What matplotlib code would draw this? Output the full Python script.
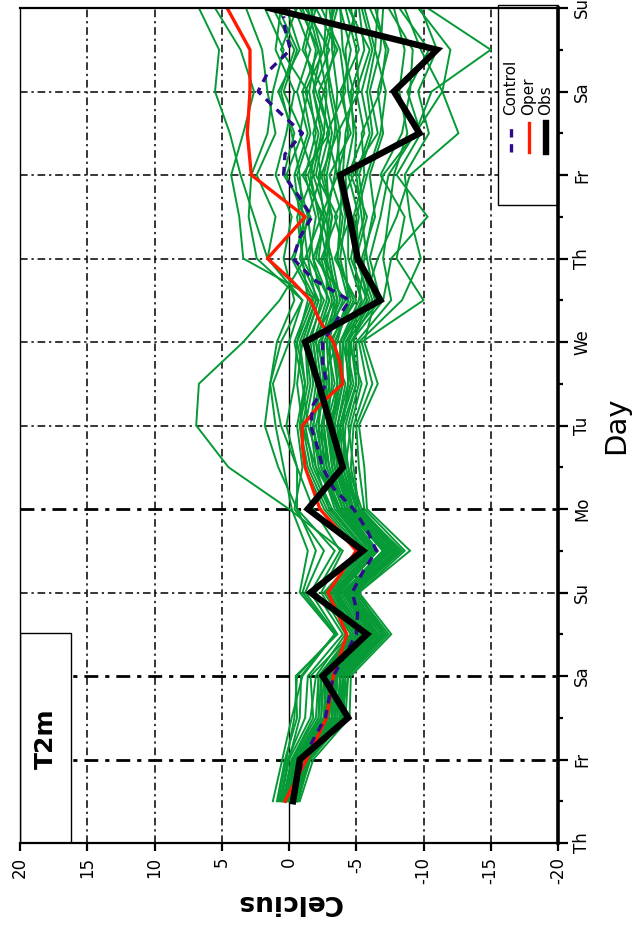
import matplotlib
matplotlib.use("Agg")
import matplotlib.pyplot as plt
from matplotlib.patches import Rectangle
import numpy as np

# ---------------- data ----------------
celsius_ticks = [20, 15, 10, 5, 0, -5, -10, -15, -20]
day_labels = ["Th", "Fr", "Sa", "Su", "Mo", "Tu", "We", "Th", "Fr", "Sa", "Su"]

ens_days = [0.5, 1.0, 1.5, 2.0, 2.5, 3.0, 3.5, 4.0, 4.5, 5.0,
            5.5, 6.0, 6.5, 7.0, 7.5, 8.0, 8.5, 9.0, 9.5, 10.0]

ens_members = [
    [0.3,-0.5,-2.4,-2.6,-5.0,-3.2,-6.0,-3.6,-2.2,-1.8,-2.4,-2.0,-3.0,-1.5,-2.0,-1.2,-2.0,-1.5,-2.0,-1.0],
    [-0.5,-1.2,-3.6,-3.8,-6.5,-4.6,-7.4,-4.8,-3.6,-3.2,-3.8,-3.4,-4.6,-3.8,-4.2,-3.6,-4.4,-4.0,-4.6,-3.8],
    [0.0,-0.8,-3.0,-3.0,-5.8,-3.8,-6.6,-4.0,-2.8,-2.2,-2.6,-2.2,-4.2,-2.0,-2.6,-1.0,-3.0,-2.2,-3.6,-2.0],
    [-0.3,-1.5,-4.0,-4.2,-7.2,-5.0,-8.2,-5.4,-4.4,-3.8,-4.6,-4.0,-5.8,-4.6,-5.2,-4.4,-5.6,-5.0,-6.0,-4.4],
    [0.8,0.2,-0.4,-0.6,-3.5,-1.2,-2.6,-0.4,-1.0,-0.6,-1.2,-0.8,-2.0,-0.4,-1.2,0.2,-1.0,0.4,-0.6,0.8],
    [1.2,0.5,-0.2,-1.0,-3.4,-0.8,-1.4,-0.2,0.4,1.0,1.4,0.6,-1.0,1.6,1.0,2.4,1.0,1.6,2.0,3.2],
    [0.6,0.0,-1.6,-2.0,-4.2,-2.4,-4.0,0.0,4.5,6.9,6.7,3.4,0.7,-1.2,-2.4,-1.4,-2.6,-1.8,-2.4,-1.6],
    [-0.4,-1.0,-3.4,-3.6,-6.2,-4.4,-7.2,-4.6,-3.8,-3.6,-4.4,-4.2,-6.8,-6.0,-6.8,-7.4,-9.4,-10.6,-15.0,-10.3],
    [-0.2,-0.9,-3.2,-3.4,-6.0,-4.2,-7.0,-4.4,-3.4,-3.0,-3.8,-3.8,-5.6,-6.6,-8.0,-9.0,-12.6,-11.4,-12.0,-9.6],
    [-0.6,-1.4,-3.8,-4.0,-6.8,-4.8,-7.8,-5.0,-4.0,-4.2,-5.0,-4.6,-7.0,-7.6,-10.3,-8.0,-9.8,-8.8,-10.4,-8.2],
    [-0.1,-1.1,-3.9,-4.4,-7.0,-5.2,-8.6,-5.6,-5.2,-5.0,-6.2,-5.4,-10.0,-8.0,-8.6,-6.8,-8.4,-9.0,-9.2,-7.4],
    [0.5,-0.4,-2.6,-2.8,-5.4,-3.6,-6.2,-3.8,-2.4,-1.4,-1.0,-0.4,-1.6,1.6,2.6,3.6,4.4,5.5,5.2,6.7],
    [0.2,-0.6,-2.8,-2.9,-5.6,-3.4,-6.4,-3.8,-2.0,-1.0,-1.6,-1.2,-2.2,3.4,3.7,4.3,3.4,2.6,3.6,5.5],
    [-0.2,-1.0,-3.2,-3.1,-6.0,-4.2,-7.0,-4.2,-3.2,-2.8,-3.2,-3.0,-3.6,-3.0,-2.8,-3.4,-3.8,-3.2,-2.6,-3.4],
    [-0.8,-1.8,-4.5,-4.6,-7.6,-5.2,-9.0,-5.8,-5.6,-5.2,-6.6,-5.6,-6.4,-5.4,-6.4,-6.0,-7.0,-6.6,-7.4,-6.0],
    [0.1,-0.6,-2.2,-2.4,-4.8,-3.0,-5.8,-3.2,-1.8,-1.2,-1.8,-1.4,-2.6,-1.0,-0.8,-0.4,-1.4,-0.6,-1.6,-0.4],
    [-0.3,-1.3,-3.6,-3.4,-6.4,-4.0,-7.6,-4.6,-3.6,-3.4,-2.4,-3.6,-4.4,-4.2,-3.4,-4.8,-5.0,-4.4,-4.2,-5.0],
    [0.9,0.3,-0.6,-0.5,-3.6,-1.6,-3.4,-0.6,0.8,1.8,1.4,0.9,-0.4,0.4,-0.2,1.0,0.2,-0.4,1.0,0.6],
    [-0.6,-1.6,-4.2,-4.4,-7.4,-5.0,-8.4,-5.2,-4.8,-4.4,-5.2,-5.0,-7.6,-7.0,-7.4,-7.8,-8.8,-8.2,-8.6,-7.8],
    [0.0,-0.7,-2.8,-3.0,-5.4,-3.6,-6.2,-3.6,-2.6,-2.0,-2.8,-2.4,-3.2,-2.4,-3.6,-2.0,-2.6,-2.8,-2.2,-1.4],
    [-0.4,-1.2,-3.4,-3.6,-6.4,-4.4,-7.4,-4.8,-3.8,-3.6,-4.2,-3.0,-5.0,-3.4,-4.6,-3.8,-3.6,-5.2,-5.0,-4.2],
    [0.4,-0.2,-1.8,-1.6,-4.6,-2.6,-5.4,-2.8,-1.4,-0.8,-1.2,-0.6,-1.8,-0.2,-1.6,0.4,-0.4,0.8,-0.8,0.2],
    [-0.2,-0.9,-3.2,-3.5,-6.2,-4.4,-7.2,-4.6,-3.6,-3.2,-4.0,-3.8,-5.2,-5.6,-6.2,-7.0,-9.4,-11.4,-9.8,-8.6],
    [0.2,-0.5,-2.6,-2.7,-5.2,-3.4,-6.0,-3.4,-2.4,-1.8,-2.2,-1.8,-2.8,-2.8,-2.2,-1.6,-2.2,-1.2,-2.6,-2.8],
    [-0.7,-1.5,-4.2,-4.0,-7.0,-4.8,-8.0,-5.0,-4.2,-4.6,-5.4,-4.4,-5.4,-4.8,-5.6,-5.2,-6.2,-5.8,-6.4,-5.6],
    [0.6,0.1,-1.2,-1.4,-4.0,-2.0,-3.8,-1.8,-0.6,0.6,1.2,0.0,-1.0,2.4,3.0,2.8,1.6,1.2,0.4,1.8],
    [-0.5,-1.3,-3.8,-3.8,-6.6,-4.6,-7.8,-4.8,-4.0,-3.8,-4.8,-4.2,-6.0,-5.0,-5.8,-4.6,-6.6,-6.0,-6.8,-7.0],
    [0.1,-0.8,-3.0,-3.2,-5.8,-3.8,-6.6,-4.0,-3.0,-2.4,-3.4,-2.8,-3.4,-2.6,-3.0,-2.8,-3.4,-3.6,-3.2,-3.2],
    [0.7,0.0,-0.8,-0.9,-3.4,-1.0,-2.0,-0.6,-0.6,0.2,-0.4,-0.6,-1.4,-1.0,-0.6,-1.8,-0.8,-1.4,0.6,-0.6],
    [-0.3,-1.1,-3.4,-3.6,-6.2,-4.2,-7.2,-4.4,-3.4,-2.8,-3.6,-3.4,-4.8,-3.6,-4.0,-3.0,-4.6,-3.8,-5.2,-4.6],
    [0.0,-0.9,-3.2,-3.0,-5.6,-3.6,-6.6,-4.2,-3.0,-2.6,-2.6,-2.6,-3.8,-3.2,-2.4,-3.6,-2.8,-4.2,-3.8,-2.4],
    [-0.6,-1.4,-4.0,-4.2,-7.2,-5.0,-8.0,-5.2,-4.6,-4.8,-5.8,-5.2,-8.4,-9.8,-9.0,-8.6,-10.4,-9.6,-11.0,-9.8],
    [0.3,-0.4,-2.4,-2.4,-5.0,-3.0,-5.8,-3.0,-1.6,-1.0,-0.6,-1.0,-2.0,-1.4,-1.0,-0.8,-0.2,0.6,-0.4,1.2],
    [-0.2,-1.0,-3.4,-3.4,-6.0,-4.0,-7.0,-4.4,-3.6,-3.8,-4.6,-4.4,-6.2,-5.2,-4.8,-5.6,-5.4,-6.8,-7.2,-6.4],
    [0.2,-0.6,-2.8,-2.6,-5.4,-3.2,-6.2,-3.6,-2.4,-2.2,-2.2,-1.8,-3.4,-2.2,-2.6,-2.2,-3.0,-2.0,-1.2,-2.0],
    [-0.4,-1.2,-3.6,-3.8,-6.6,-4.4,-7.6,-4.6,-3.8,-3.4,-4.0,-4.0,-5.4,-4.4,-4.4,-4.2,-4.8,-4.6,-5.6,-5.2],
    [0.4,-0.3,-2.2,-2.2,-4.8,-2.8,-5.6,-3.0,-2.0,-1.6,-2.0,-1.6,-2.4,-1.8,-1.4,-2.4,-1.8,-2.6,-1.0,-1.8],
    [-0.1,-1.0,-3.4,-3.2,-6.0,-4.0,-7.0,-4.2,-3.2,-3.0,-3.0,-2.8,-4.0,-2.6,-3.2,-2.4,-3.6,-3.0,-2.8,-3.6],
    [-0.4,-1.3,-3.8,-4.0,-6.8,-4.6,-7.8,-5.0,-4.4,-4.0,-4.4,-4.6,-6.4,-5.8,-5.4,-5.0,-6.0,-5.4,-6.2,-5.4],
    [0.2,-0.7,-2.6,-2.8,-5.2,-3.4,-6.4,-3.8,-2.6,-2.4,-3.0,-2.0,-3.0,-1.8,-2.8,-1.8,-2.4,-1.8,-3.0,-1.2],
    [-0.3,-1.1,-3.2,-3.6,-6.4,-4.2,-7.2,-4.4,-3.4,-3.2,-3.6,-3.2,-4.4,-3.6,-3.8,-4.0,-4.2,-4.8,-4.0,-3.8],
    [0.5,-0.2,-2.0,-2.2,-4.6,-2.8,-5.2,-2.6,-1.2,-0.8,-1.4,-1.2,-2.2,-0.8,-1.4,-0.6,-1.6,-1.0,-2.2,-0.8],
    [-0.5,-1.4,-4.0,-4.0,-7.0,-4.8,-8.2,-5.2,-4.2,-4.0,-5.0,-4.8,-5.8,-5.2,-5.0,-5.8,-6.8,-7.2,-6.4,-6.6],
    [0.0,-0.8,-2.8,-3.0,-5.6,-3.6,-6.4,-4.0,-2.8,-2.6,-2.8,-2.4,-3.6,-2.8,-3.2,-2.6,-3.2,-2.6,-3.4,-3.0],
]

control_days = [0.5, 1.0, 1.5, 2.0, 2.5, 2.75, 3.0, 3.25, 3.5, 3.75, 4.0, 4.25, 4.5, 4.75,
                5.0, 5.25, 5.5, 5.75, 6.0, 6.25, 6.5, 6.75, 7.0, 7.25, 7.5, 7.75, 8.0,
                8.25, 8.5, 8.75, 9.0, 9.25, 9.5, 9.75, 9.9]
control_vals = [-0.3, -1.0, -2.7, -3.3, -5.0, -5.1, -4.7, -5.5, -6.5, -5.8, -4.8, -3.3, -2.5, -2.1,
                -1.6, -1.8, -2.8, -2.5, -2.5, -3.5, -4.5, -1.8, -0.3, -0.8, -1.7, -0.7, 0.4,
                0.3, -1.0, 0.7, 2.3, 1.5, -0.1, 0.3, 0.4]

oper_days = [0.5, 1.0, 1.5, 2.0, 2.5, 3.0, 3.5, 4.0, 4.5, 4.75, 5.0, 5.25, 5.5, 5.75,
             6.0, 6.25, 6.5, 6.75, 7.0, 7.25, 7.5, 8.0, 8.5, 9.0, 9.5, 10.0]
oper_vals = [0.3, -1.3, -2.8, -3.3, -4.3, -2.9, -5.0, -2.3, -1.2, -1.0, -1.0, -2.3, -4.0, -3.8,
             -3.3, -2.3, -1.6, -0.1, 1.6, 0.2, -1.2, 2.8, 3.1, 2.9, 2.9, 4.6]

obs_days = [0.5, 1.0, 1.5, 2.0, 2.5, 3.0, 3.5, 4.0, 4.5, 5.0, 5.5, 6.0, 6.5, 7.0,
            7.5, 8.0, 8.5, 9.0, 9.5, 10.0]
obs_vals = [-0.3, -0.8, -4.4, -2.5, -5.8, -1.6, -5.5, -1.4, -4.0, -3.1, -2.2, -1.2, -6.8, -5.1,
            -4.5, -3.8, -9.7, -7.8, -11.0, 1.5]

# ---------------- figure ----------------
W, H = 633, 935
fig = plt.figure(figsize=(W / 100, H / 100), dpi=100)
fig.patch.set_facecolor("white")
ax = fig.add_axes([20 / W, (H - 843) / H, 538 / W, 835 / H])
ax.set_xlim(20, -20)
ax.set_ylim(0, 10)

GREEN = "#069a36"
PURPLE = "#2e0a8c"
RED = "#ff1a00"

# grid
grid_dash = (0, (5, 2.5, 1.5, 2.5))
for c in celsius_ticks:
    if c in (20, -20, 0):
        continue
    ax.axvline(c, color="black", lw=1.1, ls=grid_dash, zorder=1)
for d in range(1, 10):
    lw = 2.0 if d in (1, 2, 4) else 1.1
    ax.axhline(d, color="black", lw=lw, ls=grid_dash, zorder=1)
ax.axvline(0, color="black", lw=1.0, zorder=1.5)

# ensemble
for m in ens_members:
    ax.plot(m, ens_days, color=GREEN, lw=1.4, zorder=2, solid_joinstyle="miter")

ax.plot(oper_vals, oper_days, color=RED, lw=2.4, zorder=3)
ax.plot(control_vals, control_days, color=PURPLE, lw=2.4, ls=(0, (2.5, 2.0)), zorder=3.5)
ax.plot(obs_vals, obs_days, color="black", lw=4.6, zorder=4, solid_joinstyle="miter")

# T2m box
ax.add_patch(Rectangle((20, 0), -3.8, 2.51, facecolor="white", edgecolor="black",
                       lw=1.0, zorder=5))
ax.text(18.05, 1.25, "T2m", rotation=90, ha="center", va="center",
        fontsize=18, fontweight="bold", zorder=6)

# legend box (drawn manually, rotated)
ax.add_patch(Rectangle((-15.55, 7.64), -4.45, 2.4, facecolor="white", edgecolor="black",
                       lw=1.0, zorder=5, clip_on=False))
leg_items = [("Control", -16.5, dict(color=PURPLE, lw=2.4, ls=(0, (2.5, 2.0)))),
             ("Oper", -17.85, dict(color=RED, lw=2.4)),
             ("Obs", -19.1, dict(color="black", lw=4.6))]
for name, cx, st in leg_items:
    ax.plot([cx, cx], [8.28, 8.62], zorder=6, clip_on=False, **st)
    ax.text(cx, 8.72, name, rotation=90, ha="center", va="bottom", fontsize=11,
            zorder=6, clip_on=False)

# spines and ticks
for s in ax.spines.values():
    s.set_zorder(7)
ax.spines["right"].set_linewidth(2.6)
ax.spines["bottom"].set_linewidth(1.6)
ax.spines["top"].set_linewidth(1.6)
ax.spines["left"].set_linewidth(1.0)

ax.set_xticks(celsius_ticks)
ax.set_xticklabels([str(c) for c in celsius_ticks], rotation=90, fontsize=12)
ax.yaxis.tick_right()
ax.yaxis.set_label_position("right")
ax.set_yticks(range(11))
ax.set_yticklabels(day_labels, rotation=90, va="center", fontsize=12)
ax.set_yticks(np.arange(0.5, 10, 1.0), minor=True)
ax.tick_params(axis="x", direction="out", length=6, width=1.6, pad=4)
ax.tick_params(axis="y", which="major", direction="out", length=7, width=1.6, pad=4)
ax.tick_params(axis="y", which="minor", direction="out", length=3.5, width=1.6)

ax.set_xlabel("Celcius", rotation=180, fontsize=19, fontweight="bold", labelpad=4)
ax.set_ylabel("Day", rotation=90, fontsize=21, labelpad=8)

fig.savefig("out.png", dpi=100, facecolor="white")
